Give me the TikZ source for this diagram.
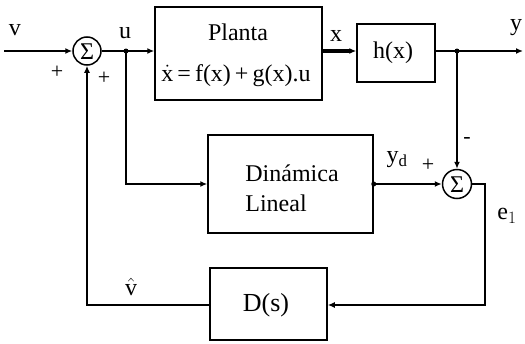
\documentclass[tikz,border=0pt]{standalone}
\usepackage{fontspec}
\setmainfont{Liberation Serif}
\usetikzlibrary{arrows.meta}
\begin{document}
\begin{tikzpicture}[x=1pt,y=-1pt,
  line width=1.5pt,
  arr/.style={-{Latex[length=7pt,width=6pt]}},
  blk/.style={draw,rectangle,line width=1.5pt,inner sep=0pt},
  sumc/.style={draw,circle,minimum size=28pt,inner sep=0pt,font=\fontsize{25}{25}\selectfont},
  lbl/.style={font=\fontsize{24}{26}\selectfont,inner sep=0pt},
  sgn/.style={font=\fontsize{22}{22}\selectfont,inner sep=0pt},
  dot/.style={circle,fill,inner sep=0pt,minimum size=5pt}]
\useasboundingbox (0,0) rectangle (525,343);
% nodes
\node[sumc] (s1) at (87,51) {};
\node (s1t) at (87,51.5) [font=\fontsize{24}{24}\selectfont,inner sep=0pt] {Σ};
\node[blk,minimum width=167pt,minimum height=93pt] (plant) at (238.5,53.5) {};
\node[lbl] (pt) at (238,32) {Planta};
\node[lbl] (eq) at (236,76) {$\dot{\mathrm{x}}$\,=\,f(x)\,+\,g(x).u};
\node[blk,minimum width=78pt,minimum height=58pt] (h) at (396,53) {};
\node[lbl] (ht) at (393,53) {h(x)};
\node[sumc,minimum size=29pt] (s2) at (457,184) {};
\node (s2t) at (457,184.5) [font=\fontsize{24}{24}\selectfont,inner sep=0pt] {Σ};
\node[blk,minimum width=165pt,minimum height=98pt] (dyn) at (290.5,184) {};
\node[lbl,align=left] (dt) at (292,188) {Dinámica\\[4pt]Lineal};
\node[blk,minimum width=117pt,minimum height=72pt] (D) at (268.5,304) {};
\node[lbl,font=\fontsize{26}{28}\selectfont] (Dt) at (266,305) {D(s)};
% coordinates
\coordinate (vin) at (4,51);
\coordinate (ju) at (126,51);
\coordinate (jy) at (457,51);
\coordinate (yout) at (523,51);
\coordinate (c1) at (485,184);
\coordinate (c2) at (485,305);
\coordinate (c3) at (87,305);
\coordinate (c4) at (126,184);
% connectors
\draw[arr] (vin) -- (s1.west);
\draw[arr] (s1.east) -- (ju) -- (plant.west |- ju);
\draw[arr,line width=3.4pt] (plant.east |- ju) -- (h.west |- ju);
\draw[arr] (h.east |- jy) -- (jy) -- (yout);
\draw[arr] (jy) -- (s2.north);
\draw[arr] (ju) -- (c4) -- (dyn.west |- c4);
\draw[arr] (dyn.east |- s2) -- (s2.west);
\draw[arr] (s2.east) -- (c1) -- (c2) -- (D.east |- c2);
\draw[arr] (D.west |- c3) -- (c3) -- (s1.south);
\node[dot] (d1) at (ju) {};
\node[dot] (d2) at (jy) {};
\node[dot] (d3) at (dyn.east |- s2) {};
% labels
\node[lbl] (lv) at (15,30) {v};
\node[lbl] (lu) at (125,33) {u};
\node[lbl] (lx) at (336,36) {x};
\node[lbl] (ly) at (516,28) {y};
\node[sgn] (p1) at (57,72) {+};
\node[sgn] (p2) at (104,78) {+};
\node[sgn] (p3) at (428,165) {+};
\node[sgn] (m1) at (467,140) {-};
\node[lbl] (lyd) at (397,160) {y$_{\mathrm{d}}$};
\node[lbl] (le) at (507,216) {e$_{1}$};
\node[lbl] (lvh) at (131,287) {$\hat{\mathrm{v}}$};
\end{tikzpicture}
\end{document}
